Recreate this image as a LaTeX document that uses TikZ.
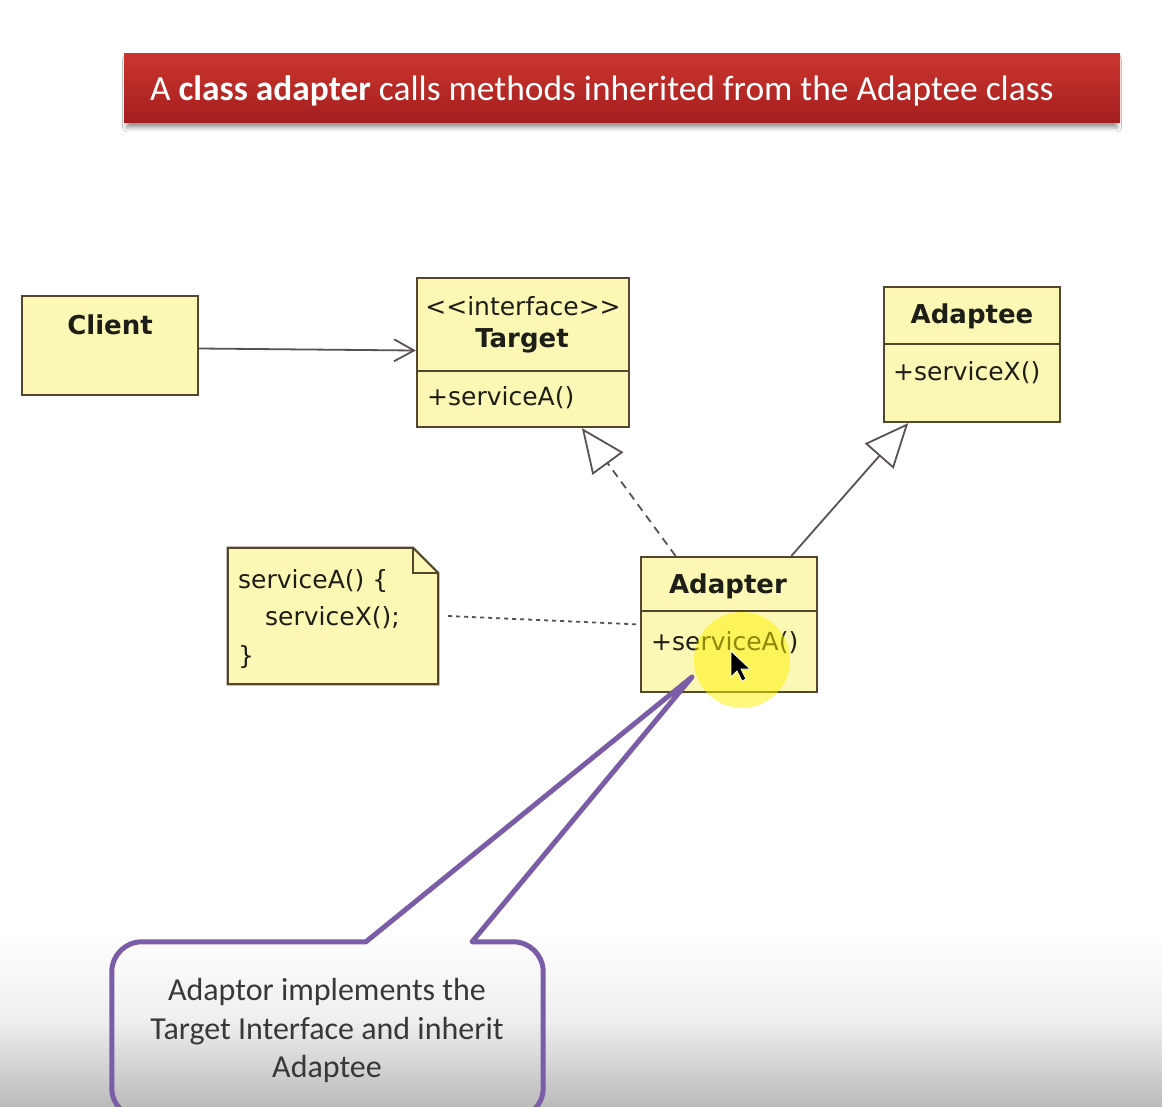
\documentclass[tikz,border=0pt]{standalone}
\usepackage{fontspec}
\setmainfont{DejaVu Sans}
\newfontfamily\uml{DejaVu Sans}
\newfontfamily\calib{Carlito}
\usetikzlibrary{arrows.meta,calc,shadows.blur}
\definecolor{umlfill}{HTML}{FBF7B4}
\definecolor{umlline}{HTML}{55472E}
\definecolor{umltext}{HTML}{1E1E18}
\definecolor{connline}{HTML}{5A5252}
\definecolor{bannertop}{HTML}{CC352F}
\definecolor{bannerbot}{HTML}{A41F1F}
\definecolor{callpurple}{HTML}{7B5CA6}
\definecolor{calltext}{HTML}{383838}
\definecolor{bgmid}{HTML}{EFEFEF}
\definecolor{bgbot}{HTML}{BBBBBB}
\begin{document}
\begin{tikzpicture}[x=1pt,y=-1pt,
  umlbox/.style={draw=umlline, fill=umlfill, line width=2.2pt, inner sep=0pt},
  umldiv/.style={draw=umlline, line width=2.2pt},
  umlbold/.style={font=\uml\bfseries\fontsize{26}{30}\selectfont, text=umltext, inner sep=0pt},
  umlreg/.style={font=\uml\fontsize{25}{30}\selectfont, text=umltext, inner sep=0pt},
  conn/.style={draw=connline, line width=1.8pt},
  calltxt/.style={font=\calib\fontsize{32}{36}\selectfont, text=calltext, inner sep=0pt, anchor=base},
  hollow/.style={-{Triangle[open, fill=white, length=44pt, width=38pt, line width=1.8pt]}}
]
\useasboundingbox (0,0) rectangle (1162,1106);
\fill[white] (0,0) rectangle (1162,1106);
\shade[top color=white, bottom color=bgmid] (0,930) rectangle (1162,1020.5);
\shade[top color=bgmid, bottom color=bgbot] (0,1020) rectangle (1162,1106);

% banner
\node[minimum width=996pt, minimum height=69pt, inner sep=0pt,
      top color=bannertop, bottom color=bannerbot,
      blur shadow={shadow xshift=0pt, shadow yshift=-6pt, shadow blur radius=4pt, shadow opacity=40, shadow scale=0.995}]
      (banner) at (622,87.5) {};
\node[anchor=base west, inner sep=0pt, text=white, font=\calib\fontsize{35.4}{40}\selectfont]
      (title) at (150,100) {A \textbf{class adapter} calls methods inherited from the Adaptee class};

% Client
\node[umlbox, minimum width=176pt, minimum height=99pt] (client) at (110,345.5) {};
\node[umlbold, anchor=base] (clientlbl) at (110,334) {Client};

% Target
\node[umlbox, minimum width=212pt, minimum height=149pt] (target) at (523,352.5) {};
\draw[umldiv] (target.west |- 0,371) -- (target.east |- 0,371);
\node[umlreg, anchor=base] (targetst) at (523,315) {<<interface>>};
\node[umlbold, anchor=base] (targetlbl) at (522,347) {Target};
\node[umlreg, anchor=base west] (targetop) at (427,405) {+serviceA()};

% Adaptee
\node[umlbox, minimum width=176pt, minimum height=135pt] (adaptee) at (972,354.5) {};
\draw[umldiv] (adaptee.west |- 0,344) -- (adaptee.east |- 0,344);
\node[umlbold, anchor=base] (adapteelbl) at (972,323) {Adaptee};
\node[umlreg, anchor=base west] (adapteeop) at (893,380) {+serviceX()};

% Adapter
\node[umlbox, minimum width=176pt, minimum height=135pt] (adapter) at (729,624.5) {};
\draw[umldiv] (adapter.west |- 0,611) -- (adapter.east |- 0,611);
\node[umlbold, anchor=base] (adapterlbl) at (728,593) {Adapter};
\node[umlreg, anchor=base west] (adapterop) at (651,650) {+serviceA()};

% Note
\node[minimum width=210pt, minimum height=136pt, inner sep=0pt] (note) at (333,616) {};
\filldraw[umlbox] (note.north west) -- ([xshift=-25pt]note.north east) -- ([yshift=-25pt]note.north east)
   -- (note.south east) -- (note.south west) -- cycle;
\draw[umldiv, line width=1.8pt] ([xshift=-25pt]note.north east) -- ([xshift=-25pt,yshift=-25pt]note.north east) -- ([yshift=-25pt]note.north east);
\node[umlreg, anchor=base west] (note1) at (238,588) {serviceA() \{};
\node[umlreg, anchor=base west] (note2) at (265,625) {serviceX();};
\node[umlreg, anchor=base west] (note3) at (238,664) {\}};

% connectors
\draw[conn, -{Straight Barb[length=20pt, width=22pt, line width=1.8pt]}] ([yshift=-3pt]client.east) -- ([yshift=2pt]target.west);
\draw[conn, dash pattern=on 8pt off 6pt, hollow]
   ($(adapter.north west)!0.2!(adapter.north east)$) -- ($(target.south west)!0.775!(target.south east)$);
\draw[conn, hollow]
   ($(adapter.north west)!0.85!(adapter.north east)$) -- ($(adaptee.south west)!0.142!(adaptee.south east)$);
\draw[conn, dash pattern=on 4pt off 4pt] ([xshift=10pt]note.east) -- (adapter.west);

% highlight and cursor
\fill[yellow, opacity=0.5] (742,660) circle[radius=48];
\filldraw[fill=black, draw=white, line width=0.8pt] (731,651) -- ++(0,26) -- ++(6,-6) -- ++(5,10) -- ++(4,-2) -- ++(-5,-10) -- ++(9,0) -- cycle;

% callout
\node[minimum width=431pt, minimum height=176pt, inner sep=0pt] (callout) at (327.5,1030) {};
\coordinate (tip) at (692,677);
\draw[callpurple, line width=5pt, line join=round]
   ($(callout.north west)!0.835!(callout.north east)$) [rounded corners=30pt] -- (callout.north east) -- (callout.south east)
   -- (callout.south west) -- (callout.north west) [sharp corners] -- ($(callout.north west)!0.589!(callout.north east)$)
   -- (tip) -- cycle;
\node[calltxt] (c1) at (327,1000) {Adaptor implements the};
\node[calltxt] (c2) at (327,1039) {Target Interface and inherit};
\node[calltxt] (c3) at (327,1077) {Adaptee};
\end{tikzpicture}
\end{document}
